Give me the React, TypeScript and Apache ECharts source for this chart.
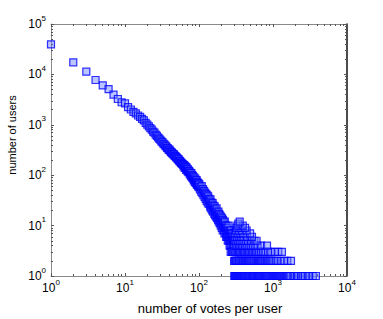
import React, { useEffect, useRef } from "react";
import * as echarts from "echarts";

// number of users for 1..100 votes per user (x = index + 1)
const headUsers = [
  39500, 17400, 11300, 7750, 6050, 5100, 3970, 3250, 2800, 2650,
  2250, 2010, 1800, 1680, 1530, 1440, 1310, 1220, 1090, 1010,
  930, 860, 800, 735, 700, 640, 605, 560, 530, 505,
  470, 455, 425, 410, 385, 372, 350, 342, 318, 322,
  300, 287, 281, 268, 262, 255, 242, 240, 229, 224,
  216, 205, 209, 194, 190, 186, 178, 174, 170, 166,
  162, 150, 158, 139, 151, 145, 128, 141, 133, 120,
  131, 115, 122, 119, 104, 113, 108, 97, 110, 92,
  101, 88, 96, 85, 79, 91, 83, 74, 86, 71,
  78, 69, 80, 64, 73, 67, 61, 70, 58, 64,
];

const midVotes = [
  101, 103, 105, 107, 109, 111, 113, 115, 117, 119,
  121, 123, 125, 127, 129, 131, 133, 135, 137, 139,
  141, 143, 145, 147, 149, 151, 153, 155, 157, 159,
  161, 163, 165, 167, 169, 171, 173, 175, 177, 179,
  181, 183, 185, 187, 189, 191, 193, 195, 197, 199,
  201, 203, 205, 207, 209, 211, 213, 215, 217, 219,
  221, 223, 225, 227, 229, 231, 233, 235, 237, 239,
  241, 243, 245, 247, 249, 251, 253, 255, 257, 259,
  261, 263, 265, 267, 269, 271, 273, 275, 277, 279,
  281, 283, 285, 287, 289, 291, 293, 295, 297, 299,
];
const midUsers = [
  66, 52, 58, 47, 61, 44, 53, 40, 49, 37,
  45, 34, 42, 31, 40, 29, 38, 27, 34, 31,
  24, 33, 22, 29, 26, 20, 28, 19, 25, 22,
  17, 24, 16, 21, 19, 15, 22, 14, 18, 16,
  13, 19, 12, 17, 14, 11, 16, 13, 10, 15,
  12, 9, 14, 11, 8, 13, 10, 12, 8, 11,
  7, 12, 9, 10, 7, 9, 6, 10, 8, 6,
  9, 7, 5, 8, 6, 10, 5, 7, 6, 4,
  8, 5, 7, 4, 6, 8, 5, 4, 6, 7,
  3, 5, 6, 4, 5, 3, 7, 4, 5, 3,
];

// tail: votes per user for which the number of users is 1, 2, 3, ...
const votesWith1 = [
  300, 305, 312, 318, 325, 333, 340, 348, 355, 362, 371, 380, 390, 398, 407,
  418, 428, 437, 449, 460, 472, 485, 497, 510, 523, 538, 551, 566, 580, 597,
  612, 628, 645, 663, 681, 700, 718, 738, 760, 780, 803, 825, 848, 872, 897,
  923, 950, 978, 1005, 1034, 1066, 1098, 1130, 1165, 1200, 1238, 1275, 1316,
  1355, 1400, 1445, 1490, 1540, 1590, 1655, 1720, 1890, 1960, 2110, 2190,
  2400, 2520, 2700, 2950, 3100, 3450, 3800,
];
const votesWith2 = [
  298, 306, 315, 322, 333, 345, 352, 366, 378, 391, 402, 417, 430, 446, 460,
  475, 492, 508, 526, 545, 560, 583, 602, 625, 646, 668, 690, 716, 741, 770,
  795, 830, 862, 893, 925, 960, 1010, 1090, 1160, 1290, 1420, 1560, 1750,
];
const votesWith3 = [
  268, 278, 289, 301, 310, 322, 336, 349, 360, 375, 391, 405, 420, 440, 458,
  476, 497, 520, 541, 566, 590, 618, 650, 690, 735, 790, 860, 930, 1060, 1180, 1320,
];
const votesWith4 = [302, 318, 330, 347, 362, 380, 398, 420, 442, 470, 500, 535, 575, 620, 690, 830];
const votesWith5 = [303, 320, 338, 356, 377, 400, 428, 460, 505, 560, 600];
const votesWith6 = [305, 325, 350, 372, 400, 445, 520];
const votesWith7 = [310, 334, 362, 395, 490];
const votesWith8 = [315, 345, 380, 440];
const votesWith9 = [322, 365, 420];
const votesWith10 = [330, 390];
const votesWith11 = [340];
const votesWith12 = [355];

const majorX = [1, 10, 100, 1000, 10000];
const majorY = [1, 10, 100, 1000, 10000, 100000];

function minorTicks(maxExp: number): number[] {
  const out: number[] = [];
  for (let e = 0; e < maxExp; e++) {
    for (let m = 2; m <= 9; m++) out.push(m * Math.pow(10, e));
  }
  return out;
}

const FONT = "'Liberation Sans', Arial, Helvetica, sans-serif";

export default function App() {
  const ref = useRef<HTMLDivElement>(null);
  useEffect(() => {
    if (!ref.current) return;
    const chart = echarts.init(ref.current, null, { renderer: "svg" });

    const data: number[][] = [];
    headUsers.forEach((u, i) => data.push([i + 1, u]));
    midVotes.forEach((v, i) => data.push([v, midUsers[i]]));
    const tails: [number[], number][] = [
      [votesWith1, 1], [votesWith2, 2], [votesWith3, 3], [votesWith4, 4],
      [votesWith5, 5], [votesWith6, 6], [votesWith7, 7], [votesWith8, 8],
      [votesWith9, 9], [votesWith10, 10], [votesWith11, 11], [votesWith12, 12],
    ];
    tails.forEach(([xs, n]) => xs.forEach((x) => data.push([x, n])));

    const labelFmt = (v: number) => `{b|10}{s|${Math.round(Math.log10(v))}}`;
    const rich = {
      b: { fontSize: 12, fontFamily: FONT, color: "#000" },
      s: { fontSize: 8, fontFamily: FONT, color: "#000", padding: [0, 0, 12, 0] },
    };
    const gray = "#8a8a8a";

    const mkX = (pos: "bottom" | "top", major: boolean, showLabel: boolean) => ({
      type: "log",
      logBase: 10,
      min: 1,
      max: 10000,
      position: pos,
      axisLine: { show: major, onZero: false, lineStyle: { color: gray, width: 1 } },
      axisTick: {
        show: true,
        inside: true,
        length: major ? 3 : 2,
        lineStyle: { color: "#555" },
        customValues: major ? majorX : minorTicks(4),
      },
      axisLabel: {
        show: showLabel,
        margin: 2,
        formatter: labelFmt,
        rich,
        customValues: majorX,
      },
      splitLine: { show: false },
    });
    const mkY = (pos: "left" | "right", major: boolean, showLabel: boolean) => ({
      type: "log",
      logBase: 10,
      min: 1,
      max: 100000,
      position: pos,
      axisLine: {
        show: major,
        onZero: false,
        lineStyle: { color: pos === "right" ? "#111" : gray, width: pos === "right" ? 1.5 : 1 },
      },
      axisTick: {
        show: true,
        inside: true,
        length: major ? 3 : 2,
        lineStyle: { color: "#555" },
        customValues: major ? majorY : minorTicks(5),
      },
      axisLabel: {
        show: showLabel,
        margin: 5,
        formatter: labelFmt,
        rich,
        customValues: majorY,
      },
      splitLine: { show: false },
    });

    chart.setOption({
      animation: false,
      backgroundColor: "#fff",
      grid: { left: 51, top: 24, width: 296, height: 252, containLabel: false },
      xAxis: [
        mkX("bottom", true, true),
        mkX("top", true, false),
        mkX("bottom", false, false),
        mkX("top", false, false),
      ],
      yAxis: [
        mkY("left", true, true),
        mkY("right", true, false),
        mkY("left", false, false),
        mkY("right", false, false),
      ],
      graphic: [
        {
          type: "text",
          x: 210,
          y: 308,
          style: {
            text: "number of votes per user",
            font: `13px ${FONT}`,
            fill: "#000",
            textAlign: "center",
            textVerticalAlign: "middle",
          },
        },
        {
          type: "text",
          x: 12,
          y: 135,
          rotation: Math.PI / 2,
          style: {
            text: "number of users",
            font: `11px ${FONT}`,
            fill: "#000",
            textAlign: "center",
            textVerticalAlign: "middle",
          },
        },
      ],
      series: [
        {
          type: "scatter",
          xAxisIndex: 0,
          yAxisIndex: 0,
          symbol: "rect",
          symbolSize: 7,
          data,
          itemStyle: {
            color: "rgba(100,120,255,0.55)",
            borderColor: "#0000ff",
            borderWidth: 1.2,
          },
          emphasis: { disabled: true },
        },
      ],
    });
    return () => chart.dispose();
  }, []);
  return (
    <div
      ref={ref}
      style={{ position: "fixed", left: 0, top: 0, width: 383, height: 319, background: "#fff" }}
    />
  );
}
